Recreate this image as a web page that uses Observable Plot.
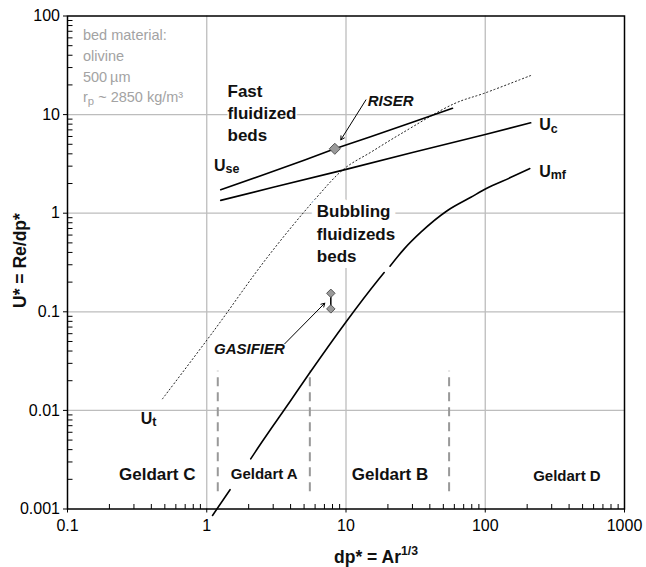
<!DOCTYPE html>
<html>
<head>
<meta charset="utf-8">
<script src="https://cdn.jsdelivr.net/npm/d3@7"></script>
<script src="https://cdn.jsdelivr.net/npm/@observablehq/plot@0.6"></script>
<style>
  body { margin: 0; background: #fff; }
  svg { display: block; }
</style>
</head>
<body>
<script>
// ---------- axis structure ----------
const xTicks = [0.1, 1, 10, 100, 1000];
const xTickLabels = ["0.1", "1", "10", "100", "1000"];
const yTicks = [0.001, 0.01, 0.1, 1, 10, 100];
const yTickLabels = ["0.001", "0.01", "0.1", "1", "10", "100"];
const xGrid = [1, 10, 100];
const yGrid = [0.01, 0.1, 1, 10];
const minorSteps = [2, 3, 4, 5, 6, 7, 8, 9];
const xDecades = [0.1, 1, 10, 100];
const yDecades = [0.001, 0.01, 0.1, 1, 10];

// ---------- curves ----------
const useX = [1.26, 2.5, 5, 8.31, 15, 30, 58.2];
const useY = [1.73, 2.43, 3.45, 4.5, 5.95, 8.35, 11.6];

const ucX = [1.26, 3, 9.69, 30, 100, 212];
const ucY = [1.35, 1.83, 2.75, 4.12, 6.28, 8.26];

const umfX = [1.10, 1.47, NaN, 2.07, 2.31, 4.01, 5.43, 9.97, 17.0, 18.8, NaN, 20.7, 26.2, 34.5, 53.6, 78.8, 101, 153, 209];
const umfY = [0.00086, 0.00157, NaN, 0.00323, 0.00408, 0.0126, 0.0235, 0.0784, 0.21, 0.25, NaN, 0.29, 0.435, 0.642, 1.065, 1.45, 1.77, 2.31, 2.84];

const utX = [0.481, 1.128, 2.67, 5.9, 9.69, 15.1, 24.8, 59.8, 100, 212];
const utY = [0.0131, 0.0646, 0.344, 1.35, 2.82, 4.16, 6.39, 12.9, 16.6, 24.9];

// operating points
const riserX = [8.31];
const riserY = [4.5];
const gasifierX = [7.78, 7.78];
const gasifierY = [0.154, 0.107];

// Geldart group boundaries
const geldartBounds = [1.2, 5.5, 55];
const geldartSpan = [0.0015, 0.025];

// ---------- texts ----------
const materialNote = "bed material:\nolivine\n500\u2009µm\nr_{p} ~ 2850 kg/m³";
const fastText = "Fast\nfluidized\nbeds";
const bubblingText = "Bubbling\nfluidizeds\nbeds";
const geldartLabels = ["Geldart C", "Geldart A", "Geldart B", "Geldart D"];
const curveLabels = ["U_{se}", "U_{c}", "U_{mf}", "U_{t}"];
const xTitle = "dp* = Ar^{1/3}";
const yTitle = "U* = Re/dp*";

// ---------- tables built from arrays ----------
const zip = (xs, ys) => xs.map((x, i) => ({x, y: ys[i]}));
const useData = zip(useX, useY);
const ucData = zip(ucX, ucY);
const umfData = zip(umfX, umfY);
const utData = zip(utX, utY);
const riserData = zip(riserX, riserY);
const gasData = zip(gasifierX, gasifierY);
const xMinor = xDecades.flatMap(d => minorSteps.map(s => +(d * s).toPrecision(3)));
const yMinor = yDecades.flatMap(d => minorSteps.map(s => +(d * s).toPrecision(3)));
const xLab = new Map(xTicks.map((t, i) => [t, xTickLabels[i]]));
const yLab = new Map(yTicks.map((t, i) => [t, yTickLabels[i]]));

// inward minor tick shapes (drawn by the dot mark at scale positions)
const tickUp = {draw(ctx) { ctx.moveTo(0, 0); ctx.lineTo(0, -5); }};
const tickRight = {draw(ctx) { ctx.moveTo(0, 0); ctx.lineTo(5, 0); }};

const chart = Plot.plot({
  width: 646,
  height: 567,
  marginLeft: 67,
  marginRight: 22,
  marginTop: 15.5,
  marginBottom: 58.5,
  style: {fontFamily: "'Liberation Sans', Arial, Helvetica, sans-serif", fontSize: "16px", color: "black", background: "white", overflow: "visible"},
  x: {type: "log", domain: [0.1, 1000]},
  y: {type: "log", domain: [0.001, 100]},
  marks: [
    // grid
    Plot.ruleX(xGrid, {stroke: "#bdbdbd", strokeWidth: 1.3}),
    Plot.ruleY(yGrid, {stroke: "#bdbdbd", strokeWidth: 1.3}),
    // inward minor ticks
    Plot.dot(xMinor, {x: d => d, y: yDecades[0], symbol: tickUp, fill: "none", stroke: "black", strokeWidth: 1}),
    Plot.dot(yMinor, {y: d => d, x: xDecades[0], symbol: tickRight, fill: "none", stroke: "black", strokeWidth: 1}),
    // Geldart boundaries
    Plot.ruleX(geldartBounds, {y1: geldartSpan[0], y2: geldartSpan[1], stroke: "#999", strokeWidth: 2, strokeDasharray: "9,6"}),
    // curves
    Plot.line(utData, {x: "x", y: "y", stroke: "#222", strokeWidth: 1, strokeDasharray: "1.2,2.6", curve: "catmull-rom"}),
    Plot.line(useData, {x: "x", y: "y", stroke: "black", strokeWidth: 1.6}),
    Plot.line(ucData, {x: "x", y: "y", stroke: "black", strokeWidth: 1.6}),
    Plot.line(umfData, {x: "x", y: "y", stroke: "black", strokeWidth: 1.6, curve: "monotone-x"}),
    // operating points
    Plot.line(gasData, {x: "x", y: "y", stroke: "black", strokeWidth: 1.5}),
    Plot.dot(gasData, {x: "x", y: "y", symbol: "diamond2", r: 3.8, fill: "#9a9a9a", stroke: "#555", strokeWidth: 1}),
    Plot.dot(riserData, {x: "x", y: "y", symbol: "diamond2", r: 5, fill: "#9a9a9a", stroke: "#555", strokeWidth: 1}),
    // arrows
    Plot.arrow([0], {x1: 13.9, y1: 14.1, x2: 9.18, y2: 5.55, stroke: "black", strokeWidth: 1, headLength: 6}),
    Plot.arrow([0], {x1: 3.63, y1: 0.0474, x2: 7.04, y2: 0.1223, stroke: "black", strokeWidth: 1, headLength: 6}),
    // frame
    Plot.frame({stroke: "black", strokeWidth: 1.5}),
    // axes
    Plot.axisX({ticks: xTicks, tickFormat: d => xLab.get(d), tickSize: 4, tickPadding: 6.5, label: null, fontSize: 16}),
    Plot.axisY({ticks: yTicks, tickFormat: d => yLab.get(d), tickSize: 4, tickPadding: 3.5, label: null, fontSize: 16}),
    // annotations
    Plot.text([materialNote], {x: 0.1292, y: 79.4, text: d => d, textAnchor: "start", lineAnchor: "top", lineHeight: 1.42, fontSize: 14.5, fill: "#a3a3a3"}),
    Plot.text([fastText], {x: 1.41, y: 21.97, text: d => d, textAnchor: "start", lineAnchor: "top", lineHeight: 1.294, fontSize: 17, fontWeight: "bold", fill: "#111", stroke: "white", strokeWidth: 3, paintOrder: "stroke", strokeLinejoin: "round"}),
    Plot.text([bubblingText], {x: 6.17, y: 1.323, text: d => d, textAnchor: "start", lineAnchor: "top", lineHeight: 1.324, fontSize: 17, fontWeight: "bold", fill: "#111", stroke: "white", strokeWidth: 12, paintOrder: "stroke", strokeLinejoin: "round"}),
    Plot.text(["RISER"], {x: 14.3, y: 13.7, text: d => d, textAnchor: "start", fontSize: 15, fontWeight: "bold", fontStyle: "italic", fill: "#111"}),
    Plot.text(["GASIFIER"], {x: 1.128, y: 0.0417, text: d => d, textAnchor: "start", fontSize: 15, fontWeight: "bold", fontStyle: "italic", fill: "#111"}),
    Plot.text([geldartLabels[0]], {x: 0.2344, y: 0.00224, text: d => d, textAnchor: "start", fontSize: 17, fontWeight: "bold", fill: "#111"}),
    Plot.text([geldartLabels[1]], {x: 1.487, y: 0.00225, text: d => d, textAnchor: "start", fontSize: 15, fontWeight: "bold", fill: "#111"}),
    Plot.text([geldartLabels[2]], {x: 11.0, y: 0.00224, text: d => d, textAnchor: "start", fontSize: 17, fontWeight: "bold", fill: "#111"}),
    Plot.text([geldartLabels[3]], {x: 220.8, y: 0.00215, text: d => d, textAnchor: "start", fontSize: 15, fontWeight: "bold", fill: "#111"}),
    Plot.text([curveLabels[0]], {x: 1.128, y: 3.05, text: d => d, textAnchor: "start", fontSize: 16, fontWeight: "bold", fill: "#111"}),
    Plot.text([curveLabels[1]], {x: 243.9, y: 7.81, text: d => d, textAnchor: "start", fontSize: 16, fontWeight: "bold", fill: "#111"}),
    Plot.text([curveLabels[2]], {x: 243.9, y: 2.63, text: d => d, textAnchor: "start", fontSize: 16, fontWeight: "bold", fill: "#111"}),
    Plot.text([curveLabels[3]], {x: 0.336, y: 0.00822, text: d => d, textAnchor: "start", fontSize: 16, fontWeight: "bold", fill: "#111"}),
    // axis titles
    Plot.text([xTitle], {x: 8.21, y: 0.000285, text: d => d, textAnchor: "start", lineAnchor: "bottom", fontSize: 17.5, fontWeight: "bold", fill: "#111"}),
    Plot.text([yTitle], {x: 0.0461, y: 0.331, text: d => d, textAnchor: "middle", rotate: -90, fontSize: 17.5, fontWeight: "bold", fill: "#111"})
  ]
});
document.body.appendChild(chart);

// turn _{..} and ^{..} markers into real sub/superscript tspans
function richText(svg) {
  const NS = "http://www.w3.org/2000/svg";
  const nodes = [...svg.querySelectorAll("text, tspan")].filter(n =>
    n.childNodes.length === 1 && n.firstChild.nodeType === 3 && /[_^]\{/.test(n.textContent));
  for (const node of nodes) {
    const fs = parseFloat(getComputedStyle(node).fontSize) || 16;
    const s = node.textContent;
    node.textContent = "";
    const re = /([_^])\{([^}]*)\}/g;
    let last = 0, m, cur = 0;
    const add = (t, shift, size) => {
      const ts = document.createElementNS(NS, "tspan");
      ts.textContent = t;
      if (shift - cur !== 0) ts.setAttribute("dy", (shift - cur).toFixed(2));
      if (size) ts.setAttribute("font-size", size.toFixed(2));
      cur = shift;
      node.appendChild(ts);
    };
    while ((m = re.exec(s))) {
      if (m.index > last) add(s.slice(last, m.index), 0, null);
      if (m[1] === "_") add(m[2], 0.16 * fs, 0.78 * fs);
      else add(m[2], -0.42 * fs, 0.7 * fs);
      last = re.lastIndex;
    }
    if (last < s.length) add(s.slice(last), 0, null);
  }
}
richText(chart);
</script>
</body>
</html>
